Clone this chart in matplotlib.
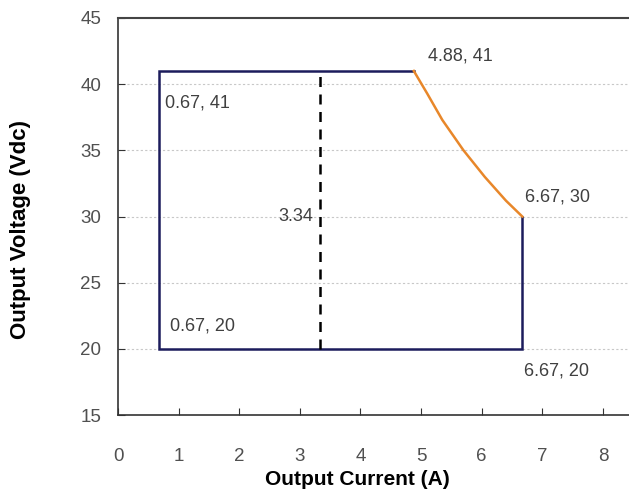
import matplotlib
matplotlib.use('Agg')
import matplotlib.pyplot as plt

# outline of the operating area
box_x = [4.88, 0.67, 0.67, 6.67, 6.67]
box_y = [41, 41, 20, 20, 30]
# constant power curve
curve_x = [4.88, 5.1, 5.35, 5.7, 6.05, 6.4, 6.67]
curve_y = [41, 39.3, 37.3, 35, 33.0, 31.2, 30]
mid_x = [3.34, 3.34]
mid_y = [20, 41]
labels = ['0.67, 41', '4.88, 41', '6.67, 30', '3.34', '0.67, 20', '6.67, 20']
label_x = [0.78, 5.12, 6.72, 3.22, 0.86, 6.70]
label_y = [38.6, 42.1, 31.5, 30.0, 21.7, 18.3]
xticks = [0, 1, 2, 3, 4, 5, 6, 7, 8]
yticks = [15, 20, 25, 30, 35, 40, 45]

font = ['Liberation Sans', 'DejaVu Sans']

fig = plt.figure(figsize=(6.29, 4.93), dpi=100)
ax = fig.add_axes([0.1876, 0.158, 0.8124, 0.8055])
ax.set_xlim(0, 8.43)
ax.set_ylim(15, 45)

for y in yticks[1:-1]:
    ax.axhline(y, color='#c8c8c8', lw=0.8, ls=(0, (2, 2)), zorder=0)

ax.plot(box_x, box_y, color='#1c1c5c', lw=1.8, solid_joinstyle='miter')
ax.plot(curve_x, curve_y, color='#e8872a', lw=1.8)
ax.plot(mid_x, mid_y, color='black', lw=1.8, ls=(0, (4, 3)))

for t, x, y in zip(labels, label_x, label_y):
    ha = 'right' if t == '3.34' else 'left'
    ax.text(x, y, t, ha=ha, va='center', fontsize=13, color='#404040', family=font)

ax.set_xticks(xticks)
ax.set_yticks(yticks)
ax.set_xticklabels([str(v) for v in xticks], family=font, fontsize=13.5, color='#505050')
ax.set_yticklabels([str(v) for v in yticks], family=font, fontsize=13.5, color='#505050')
ax.tick_params(axis='x', direction='in', length=5, pad=24, color='#333333')
ax.tick_params(axis='y', direction='in', length=5, pad=12, color='#333333')

ax.spines['right'].set_visible(False)
ax.spines['top'].set_color('#444444')
ax.spines['top'].set_linewidth(1.5)
ax.spines['left'].set_color('#333333')
ax.spines['bottom'].set_color('#333333')
ax.spines['left'].set_linewidth(1.2)
ax.spines['bottom'].set_linewidth(1.2)

fig.text(0.568, 0.028, 'Output Current (A)', ha='center', va='center',
         fontsize=15, fontweight='bold', family=font)
fig.text(0.032, 0.535, 'Output Voltage (Vdc)', ha='center', va='center', rotation=90,
         fontsize=16, fontweight='bold', family=font)

fig.savefig('out.png', dpi=100)
